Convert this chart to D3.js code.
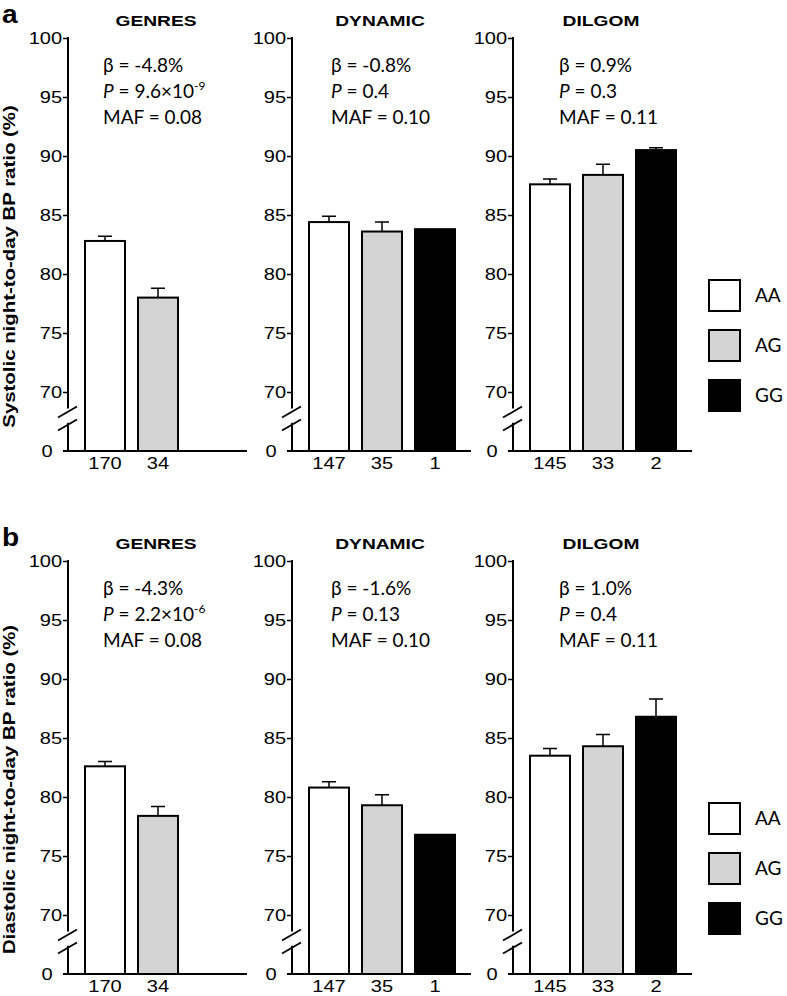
<!DOCTYPE html>
<html><head><meta charset="utf-8">
<script src="https://cdn.jsdelivr.net/npm/d3@7"></script>
<style>body{margin:0;background:#fff}</style>
</head><body>
<svg id="c" width="787" height="996"></svg>
<script>
// ---- data ----
const studies = ["GENRES", "DYNAMIC", "DILGOM"];
const genotypes = ["AA", "AG", "GG"];
const genoFill = ["#ffffff", "#d4d4d4", "#000000"];
const counts = [[170, 34], [147, 35, 1], [145, 33, 2]];
const panelLetters = ["a", "b"];
const yTitles = ["Systolic night-to-day BP ratio (%)", "Diastolic night-to-day BP ratio (%)"];
const yTicks = [65, 70, 75, 80, 85, 90, 95, 100];
const yTickLabels = ["0", "70", "75", "80", "85", "90", "95", "100"];
// systolic
const sysMeans = [[82.8, 78.0], [84.4, 83.6, 83.8], [87.6, 88.4, 90.5]];
const sysUpper = [[83.2, 78.8], [84.9, 84.4, null], [88.05, 89.3, 90.7]];
const sysBeta = ["-4.8%", "-0.8%", "0.9%"];
const sysP = ["9.6×10", "0.4", "0.3"];
const sysPexp = ["-9", null, null];
// diastolic
const diaMeans = [[82.6, 78.4], [80.8, 79.3, 76.8], [83.5, 84.3, 86.8]];
const diaUpper = [[83.0, 79.2], [81.3, 80.2, null], [84.1, 85.3, 88.3]];
const diaBeta = ["-4.3%", "-1.6%", "1.0%"];
const diaP = ["2.2×10", "0.13", "0.4"];
const diaPexp = ["-6", null, null];
const maf = ["0.08", "0.10", "0.11"];

const rows = [
  {means: sysMeans, upper: sysUpper, beta: sysBeta, p: sysP, pexp: sysPexp},
  {means: diaMeans, upper: diaUpper, beta: diaBeta, p: diaP, pexp: diaPexp}
];

// ---- layout ----
const svg = d3.select("#c");
const axisX = [68, 292, 513];
const annX = [35, 39, 46];
const rowTop = [38, 561];
const rowBottom = [451, 974];
const SANS = "'Liberation Sans', Arial, sans-serif";
const HUM = "Lato, 'Open Sans', sans-serif";

function txt(g, x, y, s, o) {
  o = o || {};
  const t = g.append("text")
    .attr("transform", `translate(${x},${y}) rotate(${o.rot || 0}) scale(${o.sx || 1},1)`)
    .attr("font-family", o.family || SANS)
    .attr("font-size", o.size || 16)
    .attr("font-weight", o.weight || "normal")
    .attr("text-anchor", o.anchor || "start")
    .attr("fill", "#000");
  if (s !== null) t.text(s);
  return t;
}

rows.forEach((row, r) => {
  const y = d3.scaleLinear().domain([65, 100]).range([rowBottom[r], rowTop[r]]);
  const g = svg.append("g");

  txt(g, 2, rowTop[r] - 15, panelLetters[r], {size: 26, weight: "bold", sx: 1.08});
  txt(g, 15, (rowTop[r] + rowBottom[r]) / 2 + 22, yTitles[r], {size: 17, weight: "bold", rot: -90, anchor: "middle", sx: 1.2});

  studies.forEach((st, s) => {
    const X0 = axisX[s];
    const x = d3.scaleBand().domain(genotypes).range([X0 + 10.5, X0 + 169.5])
      .paddingInner(0.245).paddingOuter(0.1225);

    // y axis
    const ax = g.append("g").attr("transform", `translate(${X0},0)`)
      .call(d3.axisLeft(y).tickValues(yTicks).tickSize(5).tickPadding(1)
        .tickFormat((d, i) => yTickLabels[i]));
    ax.select(".domain").remove();
    ax.selectAll(".tick line").attr("stroke", "#000").attr("stroke-width", 1.5);
    ax.selectAll(".tick text")
      .attr("font-family", SANS).attr("font-size", 17).attr("fill", "#000")
      .attr("transform", "scale(1.18,1)")
      .attr("x", (d) => d === 65 ? -13 : -5);
    ax.selectAll(".tick").filter(d => d === 65).select("line").remove();

    // axis line with break
    const line = g.append("g").attr("stroke", "#000").attr("stroke-width", 2).attr("fill", "none");
    line.append("line").attr("x1", X0).attr("x2", X0).attr("y1", y(100) - 1).attr("y2", y(68.6));
    line.append("line").attr("x1", X0).attr("x2", X0).attr("y1", y(67.4)).attr("y2", y(65));
    [68.3, 67.2].forEach(v => {
      line.append("line").attr("x1", X0 - 10).attr("x2", X0 + 9)
        .attr("y1", y(v) + 5.5).attr("y2", y(v) - 5.5).attr("stroke-width", 1.8);
    });

    // bars
    const bars = counts[s].map((c, i) => ({g: genotypes[i], m: row.means[s][i], u: row.upper[s][i], c, i}));
    g.selectAll(null).data(bars.filter(d => d.u !== null)).enter().append("path")
      .attr("d", d => {
        const cx = x(d.g) + x.bandwidth() / 2;
        return `M${cx},${y(d.m)}V${y(d.u)}M${cx - 7},${y(d.u)}H${cx + 7}`;
      })
      .attr("stroke", "#000").attr("stroke-width", 1.5).attr("fill", "none");
    g.selectAll(null).data(bars).enter().append("rect")
      .attr("x", d => x(d.g)).attr("width", x.bandwidth())
      .attr("y", d => y(d.m)).attr("height", d => y(65) - y(d.m))
      .attr("fill", d => genoFill[d.i]).attr("stroke", "#000").attr("stroke-width", 2);

    // x axis line
    g.append("line").attr("x1", X0 - 5).attr("x2", X0 + 179)
      .attr("y1", y(65)).attr("y2", y(65)).attr("stroke", "#000").attr("stroke-width", 2);

    // count labels
    bars.forEach(d => {
      txt(g, x(d.g) + x.bandwidth() / 2, y(65) + 18, String(d.c), {size: 17, anchor: "middle", sx: 1.18});
    });

    // title
    txt(g, X0 + 88, rowTop[r] - 12, st, {size: 15, weight: "bold", anchor: "middle", sx: 1.28});

    // annotation
    const ax0 = X0 + annX[s];
    const t1 = txt(g, ax0, rowTop[r] + 34, null, {size: 19, family: HUM});
    t1.append("tspan").text("β = " + row.beta[s]);
    const t2 = txt(g, ax0, rowTop[r] + 60, null, {size: 19, family: HUM});
    t2.append("tspan").attr("font-style", "italic").text("P");
    t2.append("tspan").text(" = " + row.p[s]);
    if (row.pexp[s]) t2.append("tspan").attr("font-size", 12).attr("dy", -8).text(row.pexp[s]);
    const t3 = txt(g, ax0, rowTop[r] + 86, null, {size: 19, family: HUM});
    t3.append("tspan").text("MAF = " + maf[s]);
  });

  // legend
  const lg = svg.append("g");
  genotypes.forEach((gt, i) => {
    const ly = rowTop[r] + 242 + i * 50;
    lg.append("rect").attr("x", 709).attr("y", ly).attr("width", 31).attr("height", 31)
      .attr("fill", genoFill[i]).attr("stroke", "#000").attr("stroke-width", 2);
    txt(lg, 755, ly + 22, gt, {size: 19, family: HUM});
  });
});
</script>
</body></html>
